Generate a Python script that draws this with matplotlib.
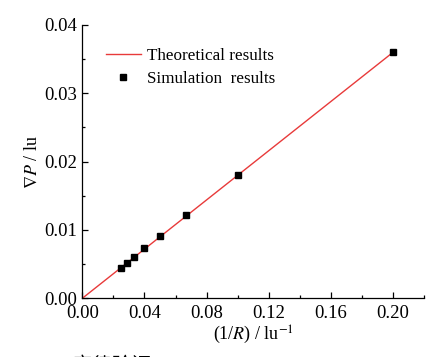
import matplotlib
matplotlib.use("Agg")
import matplotlib.pyplot as plt
from matplotlib.ticker import AutoMinorLocator

plt.rcParams['font.family'] = ['Liberation Serif', 'Noto Sans CJK SC', 'DejaVu Serif']
plt.rcParams['mathtext.fontset'] = 'stix'

# data
inv_R = [0.025, 0.0286, 0.0333, 0.04, 0.05, 0.0667, 0.1, 0.2]
grad_P_sim = [0.0045, 0.0052, 0.0061, 0.0073, 0.0091, 0.0122, 0.0180, 0.0360]
theory_x = [0.0, 0.2]
theory_y = [0.0, 0.036]

x_ticks = [0.00, 0.04, 0.08, 0.12, 0.16, 0.20]
y_ticks = [0.00, 0.01, 0.02, 0.03, 0.04]

fig = plt.figure(figsize=(4.39, 3.57), dpi=100)
ax = fig.add_axes([0.1875, 0.1644, 0.7785, 0.7656])

ax.plot(theory_x, theory_y, color='#e83a3a', lw=1.0, label='Theoretical results', zorder=2)
ax.plot(inv_R, grad_P_sim, 's', color='black', ms=5, label='Simulation  results', zorder=3)

ax.set_xlim(0, 0.22)
ax.set_ylim(0, 0.04)
ax.set_xticks(x_ticks)
ax.set_yticks(y_ticks)
ax.set_xticklabels([f"{v:.2f}" for v in x_ticks])
ax.set_yticklabels([f"{v:.2f}" for v in y_ticks])
ax.xaxis.set_minor_locator(AutoMinorLocator(2))
ax.yaxis.set_minor_locator(AutoMinorLocator(2))

for s in ['top', 'right']:
    ax.spines[s].set_visible(False)
for s in ['left', 'bottom']:
    ax.spines[s].set_linewidth(0.9)

ax.tick_params(which='major', direction='in', length=4, width=0.9, labelsize=13.5)
ax.tick_params(axis='y', which='major', pad=4)
ax.tick_params(axis='x', which='major', pad=5)
ax.tick_params(which='minor', direction='in', length=2.5, width=0.9)

ax.set_xlabel(r'(1/$\mathit{R}$) / lu$^{-1}$', fontsize=13, labelpad=1)
ax.set_ylabel(r'$\nabla\mathit{P}$ / lu', fontsize=13, labelpad=2)

leg = ax.legend(loc='upper left', bbox_to_anchor=(0.048, 0.94), frameon=False,
                fontsize=12.3, handlelength=2.1, handletextpad=0.3,
                labelspacing=0.4, borderaxespad=0)

fig.text(0.03, 0.008, 'Fig. 4   定律验证', fontsize=14, va='top', ha='left')

fig.savefig('out.png', dpi=100)
